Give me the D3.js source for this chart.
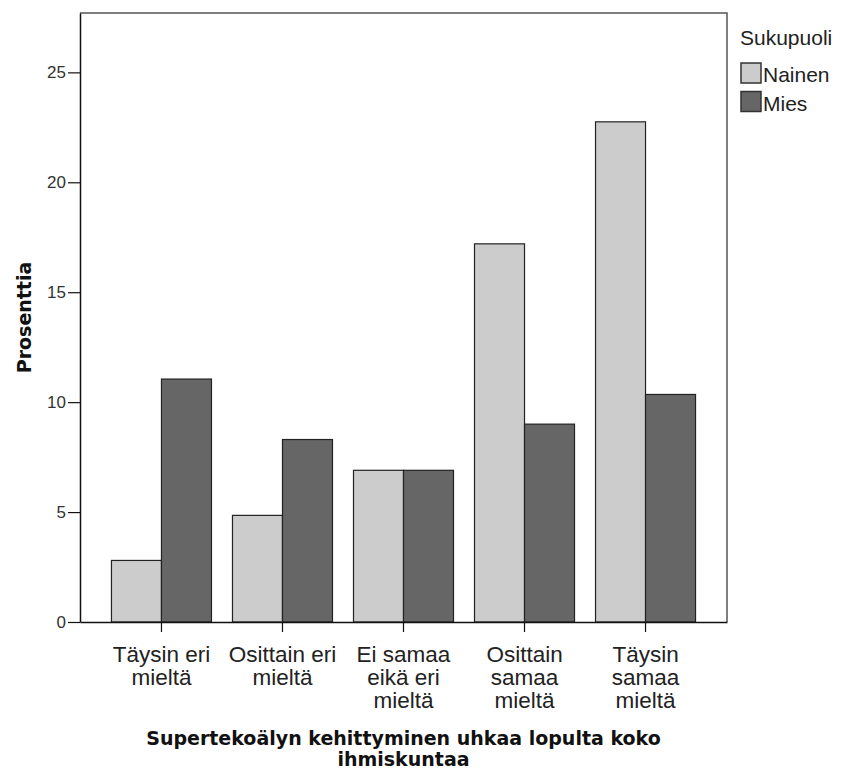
<!DOCTYPE html>
<html>
<head>
<meta charset="utf-8">
<script src="https://cdn.jsdelivr.net/npm/d3@7"></script>
<style>
    body { margin: 0; background: #fff; }
    #chart { width: 842px; height: 772px; }
</style>
</head>
<body>
<div id="chart"></div>
<script>
// Data
const categories = [
    ['Täysin eri', 'mieltä'],
    ['Osittain eri', 'mieltä'],
    ['Ei samaa', 'eikä eri', 'mieltä'],
    ['Osittain', 'samaa', 'mieltä'],
    ['Täysin', 'samaa', 'mieltä']
];
const seriesNames = ['Nainen', 'Mies'];
const nainenValues = [2.8, 4.85, 6.9, 17.2, 22.75];
const miesValues = [11.05, 8.3, 6.9, 9.0, 10.35];
const yTicks = [0, 5, 10, 15, 20, 25];
const yMax = 27.7;
const legendTitle = 'Sukupuoli';
const yTitle = 'Prosenttia';
const xTitle = ['Supertekoälyn kehittyminen uhkaa lopulta koko', 'ihmiskuntaa'];

const colors = { Nainen: '#cccccc', Mies: '#666666' };
const sans = '"Liberation Sans", Arial, sans-serif';
const boldSans = '"DejaVu Sans", Verdana, sans-serif';

// Layout
const plot = { left: 80, right: 727, top: 13, bottom: 622 };

const svg = d3.select('#chart')
    .append('svg')
    .attr('width', 842)
    .attr('height', 772);

// Scales
const xScale = d3.scaleBand()
    .domain(d3.range(categories.length))
    .range([plot.left, plot.right])
    .paddingInner(0.1736)
    .paddingOuter(0.26);

const xInner = d3.scaleBand()
    .domain(seriesNames)
    .range([0, xScale.bandwidth()]);

const yScale = d3.scaleLinear()
    .domain([0, yMax])
    .range([plot.bottom, plot.top]);

// Frame (top and right)
svg.append('path')
    .attr('d', `M${plot.left},${plot.top}H${plot.right}V${plot.bottom}`)
    .attr('fill', 'none')
    .attr('stroke', '#555')
    .attr('stroke-width', 1.5);

// Bars
const rows = categories.map((c, i) => ({
    i,
    values: [
        { key: 'Nainen', value: nainenValues[i] },
        { key: 'Mies', value: miesValues[i] }
    ]
}));

svg.append('g')
    .selectAll('g')
    .data(rows)
    .enter()
    .append('g')
    .attr('transform', d => `translate(${xScale(d.i)},0)`)
    .selectAll('rect')
    .data(d => d.values)
    .enter()
    .append('rect')
    .attr('x', d => xInner(d.key))
    .attr('y', d => yScale(d.value))
    .attr('width', xInner.bandwidth())
    .attr('height', d => yScale(0) - yScale(d.value))
    .attr('fill', d => colors[d.key])
    .attr('stroke', '#222')
    .attr('stroke-width', 1.2);

// Y axis
const yAxis = svg.append('g')
    .attr('transform', `translate(${plot.left},0)`)
    .call(d3.axisLeft(yScale)
        .tickValues(yTicks)
        .tickSize(12)
        .tickPadding(2)
        .tickSizeOuter(0));
yAxis.select('.domain').attr('stroke', '#111').attr('stroke-width', 1.5);
yAxis.selectAll('.tick line').attr('stroke', '#111').attr('stroke-width', 1.2);
yAxis.selectAll('.tick text')
    .attr('fill', '#333')
    .style('font-family', sans)
    .style('font-size', '17px');

// X axis
const xAxis = svg.append('g')
    .attr('transform', `translate(0,${plot.bottom})`)
    .call(d3.axisBottom(xScale)
        .tickSize(10)
        .tickSizeOuter(0)
        .tickFormat(''));
xAxis.select('.domain').attr('stroke', '#111').attr('stroke-width', 1.5);
xAxis.selectAll('.tick line').attr('stroke', '#111').attr('stroke-width', 1.2);

// Category labels (multi-line)
svg.append('g')
    .selectAll('text')
    .data(categories)
    .enter()
    .append('text')
    .attr('text-anchor', 'middle')
    .attr('fill', '#222')
    .style('font-family', sans)
    .style('font-size', '22.5px')
    .each(function(d, i) {
        const cx = xScale(i) + xScale.bandwidth() / 2;
        d3.select(this).selectAll('tspan')
            .data(d)
            .enter()
            .append('tspan')
            .attr('x', cx)
            .attr('y', (t, j) => 662 + j * 23)
            .text(t => t);
    });

// Axis titles
svg.append('text')
    .attr('transform', `translate(31,${(plot.top + plot.bottom) / 2}) rotate(-90)`)
    .attr('text-anchor', 'middle')
    .attr('fill', '#111')
    .style('font-family', boldSans)
    .style('font-weight', 'bold')
    .style('font-size', '19px')
    .text(yTitle);

svg.append('text')
    .attr('text-anchor', 'middle')
    .attr('fill', '#111')
    .style('font-family', boldSans)
    .style('font-weight', 'bold')
    .style('font-size', '19px')
    .selectAll('tspan')
    .data(xTitle)
    .enter()
    .append('tspan')
    .attr('x', (plot.left + plot.right) / 2)
    .attr('y', (d, i) => 745 + i * 21)
    .text(d => d);

// Legend
const legend = svg.append('g')
    .attr('transform', 'translate(740,0)');

legend.append('text')
    .attr('x', 0)
    .attr('y', 45)
    .attr('fill', '#222')
    .style('font-family', sans)
    .style('font-size', '21px')
    .text(legendTitle);

const items = legend.selectAll('.item')
    .data(seriesNames)
    .enter()
    .append('g')
    .attr('class', 'item')
    .attr('transform', (d, i) => `translate(0,${63 + i * 28.5})`);

items.append('rect')
    .attr('x', 1)
    .attr('y', 0)
    .attr('width', 20)
    .attr('height', 20)
    .attr('fill', d => colors[d])
    .attr('stroke', '#333')
    .attr('stroke-width', 1.5);

items.append('text')
    .attr('x', 23)
    .attr('y', 19)
    .attr('fill', '#222')
    .style('font-family', sans)
    .style('font-size', '21px')
    .text(d => d);
</script>
</body>
</html>
